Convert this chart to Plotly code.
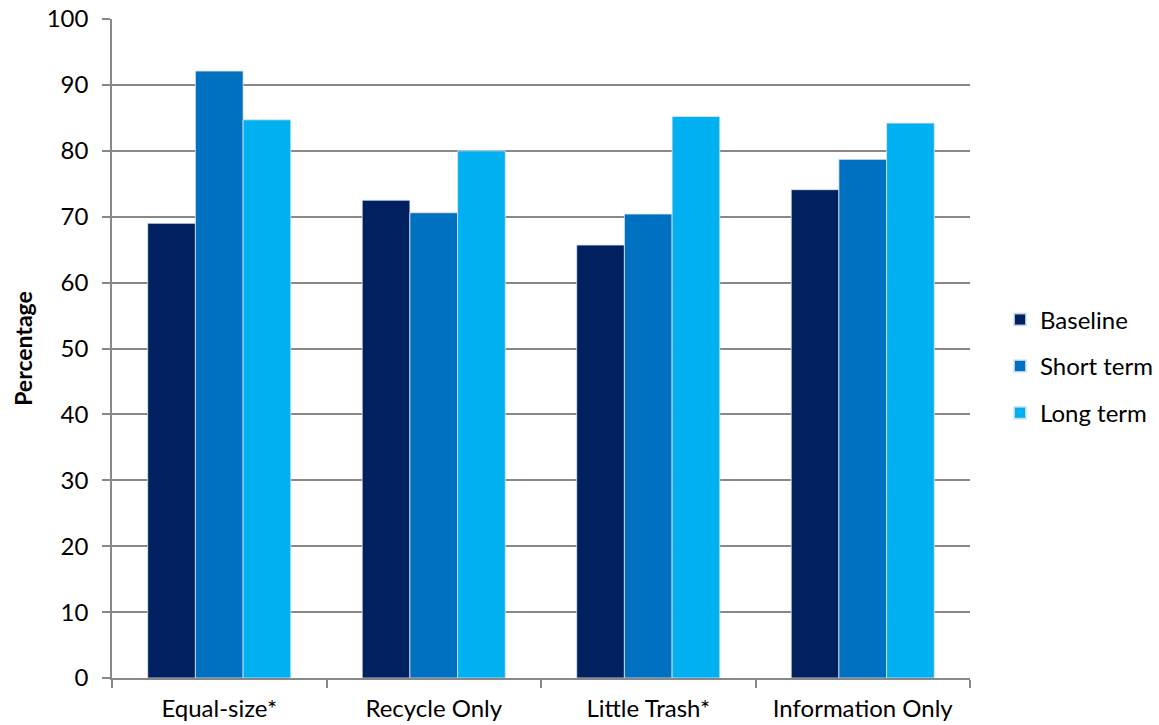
import plotly.graph_objects as go

categories = ["Equal-size*", "Recycle Only", "Little Trash*", "Information Only"]
baseline = [69.0, 72.5, 65.7, 74.1]
short_term = [92.1, 70.6, 70.4, 78.7]
long_term = [84.7, 80.0, 85.2, 84.2]
series_names = ["Baseline", "Short term", "Long term"]
colors = ["#002060", "#0070C0", "#00B0F0"]

FONT = "Lato"

fig = go.Figure()
for name, vals, col in zip(series_names, [baseline, short_term, long_term], colors):
    fig.add_trace(go.Bar(
        x=categories, y=vals, name=name, legendgroup=name,
        marker=dict(color=col, line=dict(color="rgba(220,230,245,0.8)", width=1)),
    ))

fig.update_layout(
    width=1159, height=725,
    barmode="group", bargap=0.333, bargroupgap=0,
    plot_bgcolor="white", paper_bgcolor="white",
    margin=dict(l=112, r=189, t=19, b=47, autoexpand=False),
    font=dict(family=FONT, size=24, color="#000000"),
    legend=dict(x=1.035, y=0.473, xanchor="left", yanchor="middle",
                font=dict(family=FONT, size=24), itemsizing="constant",
                tracegroupgap=12.5),
    yaxis=dict(range=[0, 100], dtick=10, showgrid=True, gridcolor="#888888", gridwidth=1.5,
               showline=True, linecolor="#888888", linewidth=1.5,
               ticks="outside", ticklen=8, tickcolor="#888888", tickwidth=1.5,
               tickfont=dict(family=FONT, size=24), automargin=False,
               ticklabelstandoff=9,
               title=dict(text="<b>Percentage</b>", font=dict(family=FONT, size=23), standoff=8),
               zeroline=False),
    xaxis=dict(showline=True, linecolor="#888888", linewidth=1.5,
               ticks="outside", ticklen=8, tickcolor="#888888", tickwidth=1.5,
               tickson="boundaries", tickfont=dict(family=FONT, size=24),
               ticklabelstandoff=8, automargin=False),
)

fig.write_html("out.html")
